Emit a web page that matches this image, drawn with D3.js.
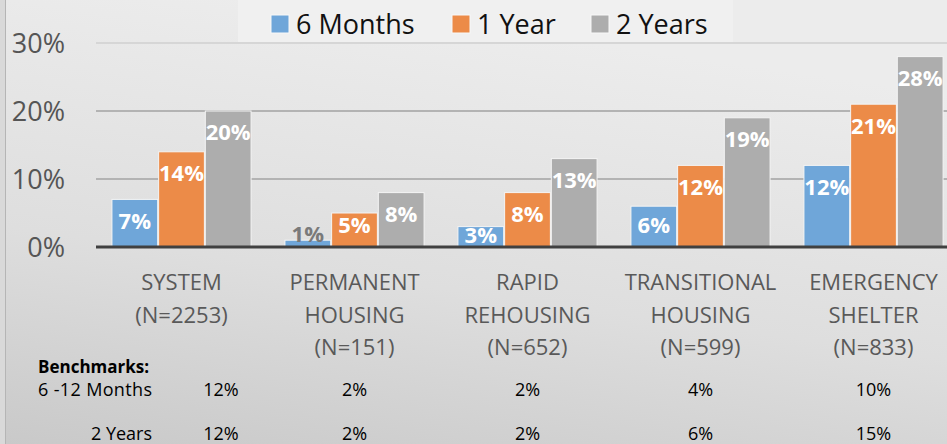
<!DOCTYPE html>
<html>
<head>
<meta charset="utf-8">
<script src="https://cdn.jsdelivr.net/npm/d3@7"></script>
<style>
  html, body { margin: 0; padding: 0; }
  body { width: 947px; height: 444px; overflow: hidden; }
  text { font-family: "Open Sans", sans-serif; }
</style>
</head>
<body>
<svg id="chart" width="947" height="444"></svg>
<script>
// chart data
var categories = ['SYSTEM|(N=2253)', 'PERMANENT|HOUSING|(N=151)', 'RAPID|REHOUSING|(N=652)',
  'TRANSITIONAL|HOUSING|(N=599)', 'EMERGENCY|SHELTER|(N=833)'];
var seriesNames = ['6 Months', '1 Year', '2 Years'];
var sixMonths = [7, 1, 3, 6, 12];
var oneYear = [14, 5, 8, 12, 21];
var twoYears = [20, 8, 13, 19, 28];
var yTicks = [0, 10, 20, 30];
var benchmarkRows = ['6 -12 Months', '2 Years'];
var benchmark612 = ['12%', '2%', '2%', '4%', '10%'];
var benchmark2y = ['12%', '2%', '2%', '6%', '15%'];

var colors = ['#6fa6d9', '#ec8b48', '#adadad'];
var series = [sixMonths, oneYear, twoYears];

var svg = d3.select('#chart');
var W = 947, H = 444;

// background
var defs = svg.append('defs');
var grad = defs.append('linearGradient').attr('id', 'bg')
  .attr('x1', '0.3').attr('y1', '0').attr('x2', '0').attr('y2', '1');
grad.append('stop').attr('offset', '0%').attr('stop-color', '#ececec');
grad.append('stop').attr('offset', '55%').attr('stop-color', '#dedede');
grad.append('stop').attr('offset', '100%').attr('stop-color', '#c9c9c9');
svg.append('rect').attr('width', W).attr('height', H).attr('fill', 'url(#bg)');
svg.append('rect').attr('x', 0).attr('width', 5).attr('height', H).attr('fill', '#d9d9d9');
svg.append('line').attr('x1', 5.5).attr('x2', 5.5).attr('y1', 0).attr('y2', H)
  .attr('stroke', '#b5b5b5').attr('stroke-width', 1);

var y = d3.scaleLinear().domain([0, 30]).range([247, 43]);
var x = d3.scaleBand().domain(d3.range(categories.length)).range([95, 960])
  .paddingInner(0.185).paddingOuter(0.0925);
var xs = d3.scaleBand().domain(d3.range(series.length)).range([0, x.bandwidth()]).padding(0.02);

// legend box
svg.append('rect').attr('x', 238).attr('y', 0).attr('width', 495).attr('height', 43)
  .attr('fill', '#f1f1f1').attr('opacity', 0.8);

// gridlines
svg.append('g').selectAll('line').data(yTicks.filter(function (d) { return d > 0; }))
  .enter().append('line')
  .attr('x1', 96).attr('x2', W)
  .attr('y1', function (d) { return y(d); }).attr('y2', function (d) { return y(d); })
  .attr('stroke', function (d) { return d === 30 ? '#d6d6d6' : '#b3b3b3'; })
  .attr('stroke-width', 2);

// y axis labels
var yAxis = d3.axisLeft(y).tickValues(yTicks).tickSize(0).tickPadding(0)
  .tickFormat(function (d) { return d + '%'; });
var yg = svg.append('g').attr('transform', 'translate(65,0)').call(yAxis);
yg.select('.domain').remove();
yg.selectAll('text').attr('font-family', '"Open Sans", sans-serif')
  .attr('font-size', 27).attr('fill', '#555555').attr('dy', '0.35em');

// bars
var groups = svg.append('g').selectAll('g').data(categories).enter().append('g')
  .attr('transform', function (d, i) { return 'translate(' + x(i) + ',0)'; });

groups.each(function (cat, ci) {
  var g = d3.select(this);
  series.forEach(function (vals, si) {
    var v = vals[ci];
    var top = y(v), base = y(0), h = base - top;
    var bx = xs(si), bw = xs.bandwidth();
    g.append('rect').attr('x', bx).attr('y', top).attr('width', bw).attr('height', h)
      .attr('fill', colors[si]).attr('stroke', '#f4f4f4').attr('stroke-width', 1);
    var cy, fill = '#ffffff';
    if (h < 10) {
      cy = top - 6; fill = '#7a7a7a';
    } else if (h < 25) {
      cy = top + h / 2 - 1.5;
    } else {
      cy = Math.min(top + 21.5, base - 21.5);
    }
    g.append('text').attr('x', bx + bw / 2).attr('y', cy).attr('dy', '0.36em')
      .attr('text-anchor', 'middle').attr('font-weight', 700).attr('font-size', 22)
      .attr('fill', fill).text(v + '%');
  });
});

// baseline
svg.append('line').attr('x1', 96).attr('x2', W).attr('y1', y(0)).attr('y2', y(0))
  .attr('stroke', '#404040').attr('stroke-width', 3);

// category labels (ticks already sit at band centres)
var xAxis = d3.axisBottom(x).tickSize(0).tickFormat('');
var xg = svg.append('g').attr('transform', 'translate(0,' + y(0) + ')').call(xAxis);
xg.select('.domain').remove();
xg.selectAll('.tick').each(function (d) {
  var t = d3.select(this).append('text').attr('text-anchor', 'middle')
    .attr('font-size', 22).attr('fill', '#595959');
  categories[d].split('|').forEach(function (line, li) {
    t.append('tspan').attr('x', 0).attr('y', 43 + li * 32.5).text(line);
  });
});

// legend
var leg = svg.append('g').selectAll('g').data(seriesNames).enter().append('g')
  .attr('transform', function (d, i) { return 'translate(' + [271, 452, 591][i] + ',15)'; });
leg.append('rect').attr('width', 18).attr('height', 18)
  .attr('fill', function (d, i) { return colors[i]; })
  .attr('stroke', '#f8f8f8').attr('stroke-width', 1);
leg.append('text').attr('x', 25).attr('y', 18.5).attr('font-size', 27).attr('fill', '#111')
  .text(function (d) { return d; });

// benchmarks table
var bench = svg.append('g');
bench.append('text').attr('x', 38).attr('y', 373).attr('font-size', 17).attr('font-weight', 700)
  .attr('fill', '#000').text('Benchmarks:');
bench.append('text').attr('x', 38).attr('y', 396).attr('font-size', 18).attr('fill', '#000')
  .attr('textLength', 114).text(benchmarkRows[0]);
bench.append('text').attr('x', 152).attr('y', 440).attr('text-anchor', 'end')
  .attr('font-size', 18).attr('fill', '#000').text(benchmarkRows[1]);
[benchmark612, benchmark2y].forEach(function (row, ri) {
  bench.selectAll(null).data(row).enter().append('text')
    .attr('x', function (d, i) { return i === 0 ? 221 : x(i) + x.bandwidth() / 2; })
    .attr('y', ri === 0 ? 396 : 440)
    .attr('text-anchor', 'middle').attr('font-size', 18).attr('fill', '#000')
    .text(function (d) { return d; });
});
</script>
</body>
</html>
